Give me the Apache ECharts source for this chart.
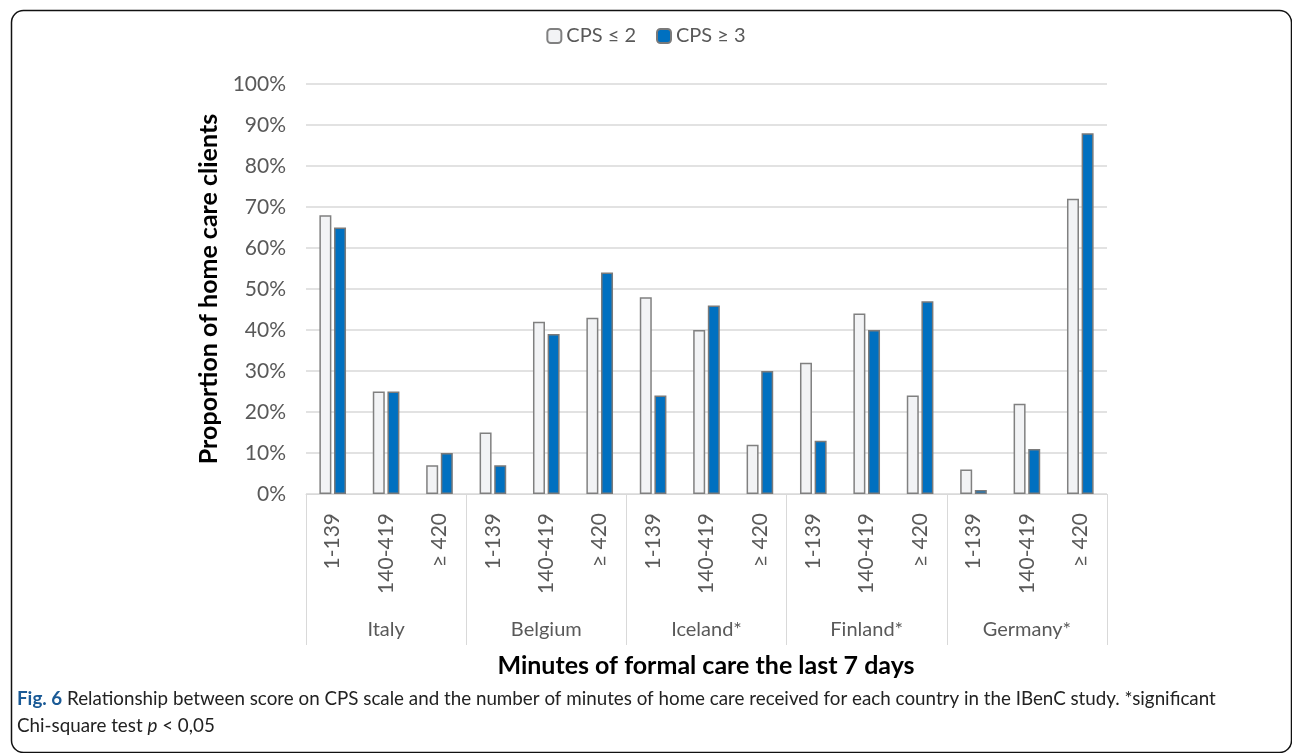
<!DOCTYPE html>
<html>
<head>
<meta charset="utf-8">
<script src="https://cdn.jsdelivr.net/npm/echarts@6/dist/echarts.min.js"></script>
<style>
html,body{margin:0;padding:0;background:#fff;}
#c{width:1292px;height:753px;}
</style>
</head>
<body>
<div id="c"></div>
<script>
const countries = ['Italy', 'Belgium', 'Iceland*', 'Finland*', 'Germany*'];
const minuteBands = ['1-139', '140-419', '≥ 420'];
const categories = [];
countries.forEach(function (c) { minuteBands.forEach(function (m) { categories.push(m); }); });
const cpsLow  = [68, 25, 7,  15, 42, 43,  48, 40, 12,  32, 44, 24,  6, 22, 72];
const cpsHigh = [65, 25, 10, 7, 39, 54,  24, 46, 30,  13, 40, 47,  1, 11, 88];
const yTicks = [0, 10, 20, 30, 40, 50, 60, 70, 80, 90, 100];

const font = 'Lato, "Open Sans", sans-serif';
const chart = echarts.init(document.getElementById('c'));
chart.setOption({
  backgroundColor: '#fff',
  textStyle: { fontFamily: font },
  legend: {
    top: 21, left: 'center',
    itemWidth: 14, itemHeight: 14, itemGap: 20,
    textStyle: { fontSize: 20, color: '#595959', fontFamily: font }
  },
  grid: { left: 306, right: 185, top: 84, bottom: 259 },
  xAxis: [{
    type: 'category',
    data: categories,
    axisLine: { show: true, lineStyle: { color: '#d9d9d9', width: 1 } },
    axisTick: { show: false },
    axisLabel: { interval: 0, rotate: 90, margin: 19, fontSize: 21, color: '#595959', fontFamily: font }
  }, {
    type: 'category',
    data: countries,
    position: 'bottom',
    axisLine: { show: false },
    axisTick: { show: true, length: 151, lineStyle: { color: '#d9d9d9', width: 1 } },
    axisLabel: { interval: 0, margin: 126, fontSize: 20, color: '#595959', fontFamily: font }
  }],
  yAxis: {
    type: 'value', min: yTicks[0], max: yTicks[yTicks.length - 1], interval: 10,
    name: 'Proportion of home care clients', nameLocation: 'middle', nameGap: 84,
    nameTextStyle: { fontSize: 25, fontWeight: 'bold', color: '#000', fontFamily: font },
    axisLine: { show: false }, axisTick: { show: false },
    axisLabel: { formatter: '{value}%', fontSize: 21, color: '#595959', margin: 20, fontFamily: font },
    splitLine: { lineStyle: { color: '#d9d9d9', width: 1.5 } }
  },
  series: [{
    name: 'CPS ≤ 2', type: 'bar', data: cpsLow, barWidth: 12, barGap: '22%',
    itemStyle: { color: '#f2f3f5', borderColor: '#808080', borderWidth: 1.5 }
  }, {
    name: 'CPS ≥ 3', type: 'bar', data: cpsHigh, barWidth: 12,
    itemStyle: { color: '#0070c0', borderColor: '#7a7a7a', borderWidth: 1.5 }
  }],
  graphic: [{
    type: 'rect', left: 9, top: 8,
    shape: { width: 1280, height: 742, r: 12 },
    style: { fill: 'none', stroke: '#111', lineWidth: 1.5 }
  }, {
    type: 'text', x: 706, y: 666,
    style: { text: 'Minutes of formal care the last 7 days', font: 'bold 25px ' + font, fill: '#000', textAlign: 'center', textVerticalAlign: 'middle' }
  }, {
    type: 'text', left: 17, top: 685,
    style: {
      text: '{b|Fig. 6} Relationship between score on CPS scale and the number of minutes of home care received for each country in the IBenC study. *significant\nChi-square test {i|p} < 0,05',
      font: '18.8px ' + font, fill: '#222', lineHeight: 27,
      rich: {
        b: { font: 'bold 18.8px ' + font, fill: '#1a5a96', lineHeight: 27 },
        i: { font: 'italic 18.8px ' + font, fill: '#222', lineHeight: 27 }
      }
    }
  }]
});
</script>
</body>
</html>
